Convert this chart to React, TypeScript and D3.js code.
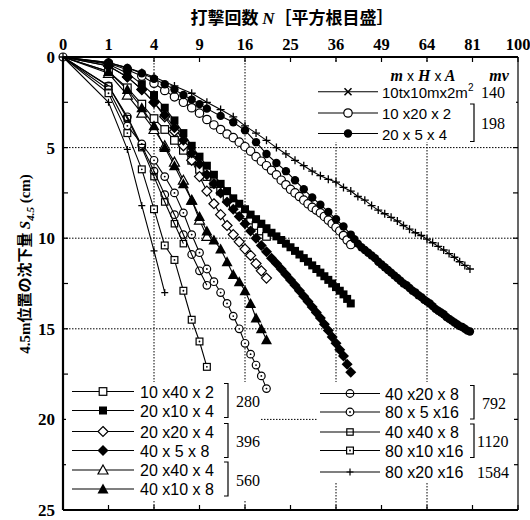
import React from 'react';
import * as d3 from 'd3';

// x ticks on a square-root scale of blow count N
const xTicks = [0, 1, 4, 9, 16, 25, 36, 49, 64, 81, 100];
const xGrid = [4, 16, 36, 64];
const yTicks = [0, 5, 10, 15, 20, 25];
const yMinor = [2.5, 7.5, 12.5, 17.5, 22.5];

// [N, S] pairs
const s140 = [[1,0.3],[2,0.6],[3,0.85],[4,1.1],[6,1.6],[8,2.0],[10,2.5],[12,2.9],[14,3.3],[16,3.8],[18,4.2],[20,4.6],[22,5.0],[24,5.35],[26,5.7],[28,6.0],[30,6.3],[32,6.55],[34,6.75],[36,6.9],[38,7.2],[40,7.4],[42,7.7],[44,7.9],[46,8.2],[48,8.45],[50,8.65],[52,8.85],[54,9.05],[56,9.3],[58,9.5],[60,9.7],[62,9.85],[64,10.05],[66,10.25],[68,10.45],[70,10.65],[72,10.85],[74,11.05],[76,11.3],[78,11.5],[80,11.7]];
const s198a = [[1,0.35],[2,0.7],[3,1.05],[4,1.45],[5,1.85],[6,2.2],[7,2.5],[8,2.8],[9,3.1],[10,3.45],[11,3.75],[12,4.0],[13,4.25],[14,4.45],[15,4.7],[16,4.95],[17,5.2],[18,5.5],[19,5.75],[20,6.0],[21,6.25],[22,6.5],[23,6.8],[24,7.05],[25,7.3],[26,7.5],[27,7.7],[28,7.9],[29,8.1],[30,8.3],[31,8.45],[32,8.6],[33,8.8],[34,9.0],[35,9.2],[36,9.4],[37,9.6],[38,9.85],[39,10.1],[40,10.35]];
const s198b = [[1,0.3],[2,0.6],[3,0.9],[4,1.2],[5,1.5],[6,1.8],[7,2.1],[8,2.35],[9,2.6],[10,2.85],[12,3.25],[14,3.6],[16,4.05],[18,4.7],[20,5.35],[22,5.85],[24,6.3],[26,6.8],[28,7.3],[30,7.75],[32,8.15],[34,8.55],[36,8.95],[38,9.35],[40,9.8],[41,10.05],[42,10.3],[43,10.5],[44,10.65],[45,10.8],[46,10.95],[47,11.1],[48,11.3],[49,11.45],[50,11.6],[51,11.75],[52,11.9],[53,12.05],[54,12.2],[55,12.35],[56,12.5],[57,12.6],[58,12.75],[59,12.9],[60,13.0],[61,13.15],[62,13.25],[63,13.4],[64,13.5],[65,13.6],[66,13.75],[67,13.9],[68,14.0],[69,14.1],[70,14.2],[71,14.35],[72,14.45],[73,14.55],[74,14.65],[75,14.75],[76,14.85],[77,14.9],[78,15.0],[79,15.1],[80,15.15]];
const s280a = [[1,0.8],[2,1.7],[3,2.6],[4,3.4],[5,4.0],[6,4.6],[7,5.15],[8,5.7],[9,6.2],[10,6.6],[11,7.0],[12,7.4],[13,7.8],[14,8.1],[15,8.4],[16,8.7],[17,9.0],[18,9.3],[19,9.6],[20,9.9]];
const s280b = [[1,0.4],[2,0.9],[3,1.5],[4,2.1],[5,2.8],[6,3.5],[7,4.2],[8,4.9],[9,5.5],[10,6.0],[11,6.5],[12,7.0],[13,7.4],[14,7.8],[15,8.1],[16,8.4],[17,8.7],[18,8.95],[19,9.2],[20,9.45],[21,9.7],[22,9.9],[23,10.1],[24,10.3],[25,10.5],[26,10.7],[27,10.9],[28,11.1],[29,11.3],[30,11.5],[31,11.7],[32,11.9],[33,12.1],[34,12.3],[35,12.5],[36,12.7],[37,12.9],[38,13.1],[39,13.35],[40,13.6]];
const s396a = [[1,0.5],[2,1.1],[3,1.8],[4,2.5],[5,3.3],[6,4.1],[7,4.9],[8,5.7],[9,6.6],[10,7.4],[11,8.1],[12,8.7],[13,9.3],[14,9.8],[15,10.2],[16,10.6],[17,10.95],[18,11.4],[19,11.8],[20,12.2]];
const s396b = [[1,0.5],[2,1.1],[3,1.8],[4,2.5],[5,3.2],[6,3.9],[7,4.6],[8,5.3],[9,5.9],[10,6.5],[11,7.0],[12,7.5],[13,8.0],[14,8.4],[15,8.8],[16,9.2],[17,9.6],[18,10.0],[19,10.4],[20,10.75],[21,11.1],[22,11.4],[23,11.7],[24,12.0],[25,12.3],[26,12.6],[27,12.9],[28,13.2],[29,13.5],[30,13.8],[31,14.1],[32,14.4],[33,14.75],[34,15.1],[35,15.45],[36,15.8],[37,16.15],[38,16.5],[39,16.95],[40,17.4]];
const s560a = [[1,0.9],[2,2.1],[3,3.1],[4,4.0],[5,4.9],[6,5.8],[7,6.8],[8,7.9],[9,9.0],[10,9.9]];
const s560b = [[1,0.8],[2,1.8],[3,2.8],[4,3.8],[5,5.0],[6,6.0],[7,7.0],[8,7.9],[9,8.8],[10,9.6],[11,10.1],[12,10.6],[13,11.3],[14,12.0],[15,12.4],[16,12.9],[17,13.6],[18,14.4],[19,15.0],[20,15.6]];
const s792a = [[1,1.6],[2,3.3],[3,4.9],[4,6.3],[5,7.6],[6,8.7],[7,9.8],[8,10.9],[9,11.8],[10,12.6]];
const s792b = [[1,1.8],[2,3.8],[3,4.8],[4,5.7],[5,6.6],[6,7.5],[7,8.6],[8,9.8],[9,10.8],[10,11.7],[11,12.4],[12,13.0],[13,13.6],[14,14.3],[15,15.0],[16,15.8],[17,16.4],[18,17.0],[19,17.6],[20,18.3]];
const s1120a = [[1,1.6],[2,3.4],[3,5.0],[4,6.6],[5,8.0],[6,9.2],[7,10.3]];
const s1120b = [[1,2.0],[2,4.2],[3,6.2],[4,8.4],[5,10.4],[6,11.2],[7,12.9],[8,14.5],[9,15.7],[10,17.1]];
const s1584 = [[1,2.5],[2,5.1],[3,8.2],[4,10.7],[5,13.0]];

const series = [
  { pts: s140, mark: 'plus', legendMark: 'cross', label: '10tx10mx2m' },
  { pts: s198a, mark: 'circleOpen', label: '10 x20 x 2' },
  { pts: s198b, mark: 'circleFilled', label: '20 x 5  x 4' },
  { pts: s280a, mark: 'squareOpen', label: '10 x40 x 2' },
  { pts: s280b, mark: 'squareFilled', label: '20 x10 x 4' },
  { pts: s396a, mark: 'diamondOpen', label: '20 x20 x 4' },
  { pts: s396b, mark: 'diamondFilled', label: '40 x 5  x 8' },
  { pts: s560a, mark: 'triOpen', label: '20 x40 x 4' },
  { pts: s560b, mark: 'triFilled', label: '40 x10 x 8' },
  { pts: s792a, mark: 'circleLine', label: '40 x20 x 8' },
  { pts: s792b, mark: 'circleDot', label: '80 x 5  x16' },
  { pts: s1120a, mark: 'squareLine', label: '40 x40 x 8' },
  { pts: s1120b, mark: 'squareDot', label: '80 x10 x16' },
  { pts: s1584, mark: 'plusSmall', label: '80 x20 x16' },
];

const x = d3.scaleSqrt().domain([0, 100]).range([63, 518]);
const y = d3.scaleLinear().domain([0, 25]).range([57, 510]);

function Marker({ type, cx, cy }: { type: string; cx: number; cy: number }) {
  const sw = 1.2;
  switch (type) {
    case 'cross':
      return <path d={`M${cx - 3.5},${cy - 3.5}L${cx + 3.5},${cy + 3.5}M${cx - 3.5},${cy + 3.5}L${cx + 3.5},${cy - 3.5}`} stroke="#000" strokeWidth={1.5} />;
    case 'plus':
      return <path d={`M${cx},${cy - 4}L${cx},${cy + 4}M${cx - 4},${cy}L${cx + 4},${cy}`} stroke="#000" strokeWidth={1.3} />;
    case 'plusSmall':
      return <path d={`M${cx},${cy - 3.5}L${cx},${cy + 3.5}M${cx - 3.5},${cy}L${cx + 3.5},${cy}`} stroke="#000" strokeWidth={1.2} />;
    case 'circleOpen':
      return <circle cx={cx} cy={cy} r={4.2} fill="#fff" stroke="#000" strokeWidth={sw} />;
    case 'circleFilled':
      return <circle cx={cx} cy={cy} r={4.2} fill="#000" />;
    case 'squareOpen':
      return <rect x={cx - 3.8} y={cy - 3.8} width={7.6} height={7.6} fill="#fff" stroke="#000" strokeWidth={sw} />;
    case 'squareFilled':
      return <rect x={cx - 4} y={cy - 4} width={8} height={8} fill="#000" />;
    case 'diamondOpen':
      return <path d={`M${cx},${cy - 5}L${cx + 5},${cy}L${cx},${cy + 5}L${cx - 5},${cy}Z`} fill="#fff" stroke="#000" strokeWidth={sw} />;
    case 'diamondFilled':
      return <path d={`M${cx},${cy - 5.5}L${cx + 5.5},${cy}L${cx},${cy + 5.5}L${cx - 5.5},${cy}Z`} fill="#000" />;
    case 'triOpen':
      return <path d={`M${cx},${cy - 5}L${cx + 5},${cy + 4}L${cx - 5},${cy + 4}Z`} fill="#fff" stroke="#000" strokeWidth={sw} />;
    case 'triFilled':
      return <path d={`M${cx},${cy - 5.5}L${cx + 5.5},${cy + 4.5}L${cx - 5.5},${cy + 4.5}Z`} fill="#000" />;
    case 'circleLine':
      return <circle cx={cx} cy={cy} r={3.8} fill="none" stroke="#000" strokeWidth={sw} />;
    case 'circleDot':
      return (
        <g>
          <circle cx={cx} cy={cy} r={3.8} fill="#fff" stroke="#000" strokeWidth={sw} />
          <circle cx={cx} cy={cy} r={0.9} fill="#000" />
        </g>
      );
    case 'squareLine':
      return <rect x={cx - 3.2} y={cy - 3.2} width={6.4} height={6.4} fill="none" stroke="#000" strokeWidth={sw} />;
    case 'squareDot':
      return (
        <g>
          <rect x={cx - 3.4} y={cy - 3.4} width={6.8} height={6.8} fill="#fff" stroke="#000" strokeWidth={sw} />
          <circle cx={cx} cy={cy} r={0.9} fill="#000" />
        </g>
      );
    default:
      return null;
  }
}

const line = d3
  .line<number[]>()
  .x((d) => x(d[0]))
  .y((d) => y(d[1]));

const serif = '"Liberation Serif", "Times New Roman", serif';
const sans = '"Liberation Sans", Arial, sans-serif';
const cjk = '"Noto Sans CJK JP", sans-serif';

function LegendRow({ s, lx, ly, w, tx, fs }: any) {
  const mk = s.legendMark || s.mark;
  return (
    <g>
      <line x1={lx} x2={lx + w} y1={ly} y2={ly} stroke="#000" strokeWidth={1.1} />
      <Marker type={mk} cx={lx + w / 2} cy={ly} />
      <text x={tx} y={ly + 6} fontFamily={sans} fontSize={fs}>
        {s.label}
        {s.legendMark ? <tspan dy={-7} fontSize={10}>2</tspan> : null}
      </text>
    </g>
  );
}

function Bracket({ bx, y1, y2 }: { bx: number; y1: number; y2: number }) {
  return <path d={`M${bx - 4},${y1}L${bx},${y1}L${bx},${y2}L${bx - 4},${y2}`} fill="none" stroke="#000" strokeWidth={1.2} />;
}

export default function App() {
  const [x0, x1] = x.range();
  const [y0, y1] = y.range();
  const trLeg = [91.7, 113, 133.5];
  const blLeg = [391.5, 410.5, 431.5, 450.5, 470, 489];
  const brLeg = [393.5, 412, 432, 450.5, 472];

  return (
    <svg width={530} height={520} style={{ position: 'absolute', left: 0, top: 0, background: '#fff' }}>
      <rect width={530} height={520} fill="#fff" />
      {/* title */}
      <text x={292} y={24} textAnchor="middle" fontFamily={cjk} fontSize={17} fontWeight={700}>
        打擊回数 <tspan fontFamily={serif} fontStyle="italic" fontWeight={700}>N</tspan>［平方根目盛］
      </text>
      {/* grid */}
      {xGrid.map((t) => (
        <line key={'gx' + t} x1={x(t)} x2={x(t)} y1={y0} y2={y1} stroke="#000" strokeWidth={1} strokeDasharray="1.5,1.5" />
      ))}
      {yTicks.slice(1, -1).map((t) => (
        <line key={'gy' + t} x1={x0} x2={x1} y1={y(t)} y2={y(t)} stroke="#000" strokeWidth={1} strokeDasharray="1.5,1.5" />
      ))}
      {/* ticks */}
      {xTicks.map((t) => (
        <g key={'xt' + t}>
          <line x1={x(t)} x2={x(t)} y1={y0} y2={y0 + 5} stroke="#000" strokeWidth={1.2} />
          <line x1={x(t)} x2={x(t)} y1={y1} y2={y1 - 5} stroke="#000" strokeWidth={1.2} />
          <text x={x(t)} y={50} textAnchor="middle" fontFamily={serif} fontSize={16.5} fontWeight={700}>
            {t}
          </text>
        </g>
      ))}
      {yTicks.map((t) => (
        <g key={'yt' + t}>
          <line x1={x0} x2={x0 + 5} y1={y(t)} y2={y(t)} stroke="#000" strokeWidth={1.2} />
          <line x1={x1} x2={x1 - 5} y1={y(t)} y2={y(t)} stroke="#000" strokeWidth={1.2} />
          <text x={x0 - 8} y={y(t) + 6} textAnchor="end" fontFamily={serif} fontSize={17} fontWeight={700}>
            {t}
          </text>
        </g>
      ))}
      {yMinor.map((t) => (
        <g key={'ym' + t}>
          <line x1={x0} x2={x0 + 5} y1={y(t)} y2={y(t)} stroke="#000" strokeWidth={1.2} />
          <line x1={x1} x2={x1 - 5} y1={y(t)} y2={y(t)} stroke="#000" strokeWidth={1.2} />
        </g>
      ))}
      {/* y axis title */}
      <text transform={`translate(30,264) rotate(-90)`} textAnchor="middle" fontFamily={cjk} fontSize={15} fontWeight={700}>
        <tspan fontFamily={serif}>4.5m</tspan>位置の沈下量 <tspan fontFamily={serif} fontStyle="italic">S</tspan>
        <tspan fontFamily={serif} fontStyle="italic" fontSize={11} dy={4}>4.5</tspan>
        <tspan fontFamily={serif} dy={-4}> (cm)</tspan>
      </text>

      {/* series */}
      {series.map((s, i) => (
        <g key={'s' + i}>
          <path d={line([[0, 0], ...s.pts]) || ''} fill="none" stroke="#000" strokeWidth={1.1} />
        </g>
      ))}
      {series.map((s, i) => (
        <g key={'m' + i}>
          {s.pts.map((p, j) => (
            <Marker key={j} type={s.mark} cx={x(p[0])} cy={y(p[1])} />
          ))}
        </g>
      ))}
      <Marker type="plus" cx={x(0)} cy={y(0)} />
      <circle cx={x(0)} cy={y(0)} r={4} fill="none" stroke="#000" strokeWidth={1.2} />

      {/* top-right legend */}
      <rect x={316} y={62} width={200} height={80} fill="#fff" />
      <text x={423} y={81} textAnchor="middle" fontFamily={serif} fontStyle="italic" fontWeight={700} fontSize={16}>
        m <tspan fontStyle="normal" fontWeight={400} fontFamily={sans} fontSize={14}>x</tspan> H <tspan fontStyle="normal" fontWeight={400} fontFamily={sans} fontSize={14}>x</tspan> A
      </text>
      <text x={499} y={81} textAnchor="middle" fontFamily={serif} fontStyle="italic" fontWeight={700} fontSize={16}>mv</text>
      {series.slice(0, 3).map((s, i) => (
        <LegendRow key={'lt' + i} s={s} lx={318} ly={trLeg[i]} w={60} tx={382} fs={15} />
      ))}
      <text x={481} y={trLeg[0] + 6} fontFamily={serif} fontSize={16}>140</text>
      <Bracket bx={474} y1={trLeg[1] - 9} y2={trLeg[2] + 8} />
      <text x={481} y={(trLeg[1] + trLeg[2]) / 2 + 6} fontFamily={serif} fontSize={16}>198</text>

      {/* bottom-left legend */}
      <rect x={66} y={382} width={194} height={118} fill="#fff" />
      {series.slice(3, 9).map((s, i) => (
        <LegendRow key={'lb' + i} s={s} lx={72} ly={blLeg[i]} w={62} tx={140} fs={16} />
      ))}
      {[0, 2, 4].map((k, i) => (
        <g key={'bb' + k}>
          <Bracket bx={228} y1={blLeg[k] - 8} y2={blLeg[k + 1] + 7} />
          <text x={236} y={(blLeg[k] + blLeg[k + 1]) / 2 + 6} fontFamily={serif} fontSize={16}>
            {['280', '396', '560'][i]}
          </text>
        </g>
      ))}

      {/* bottom-right legend */}
      <rect x={318} y={382} width={196} height={100} fill="#fff" />
      {series.slice(9).map((s, i) => (
        <LegendRow key={'lr' + i} s={s} lx={320} ly={brLeg[i]} w={60} tx={385} fs={16} />
      ))}
      <Bracket bx={474} y1={brLeg[0] - 8} y2={brLeg[1] + 7} />
      <text x={482} y={(brLeg[0] + brLeg[1]) / 2 + 6} fontFamily={serif} fontSize={16}>792</text>
      <Bracket bx={474} y1={brLeg[2] - 8} y2={brLeg[3] + 7} />
      <text x={477} y={(brLeg[2] + brLeg[3]) / 2 + 6} fontFamily={serif} fontSize={16}>1120</text>
      <text x={477} y={brLeg[4] + 6} fontFamily={serif} fontSize={16}>1584</text>

      {/* frame */}
      <line x1={x0} x2={x1} y1={y0} y2={y0} stroke="#000" strokeWidth={2.2} />
      <line x1={x0} x2={x1} y1={y1} y2={y1} stroke="#000" strokeWidth={2.2} />
      <line x1={x0} x2={x0} y1={y0} y2={y1} stroke="#000" strokeWidth={2.2} />
      <line x1={x1} x2={x1} y1={y0} y2={y1} stroke="#000" strokeWidth={1.2} />
    </svg>
  );
}
